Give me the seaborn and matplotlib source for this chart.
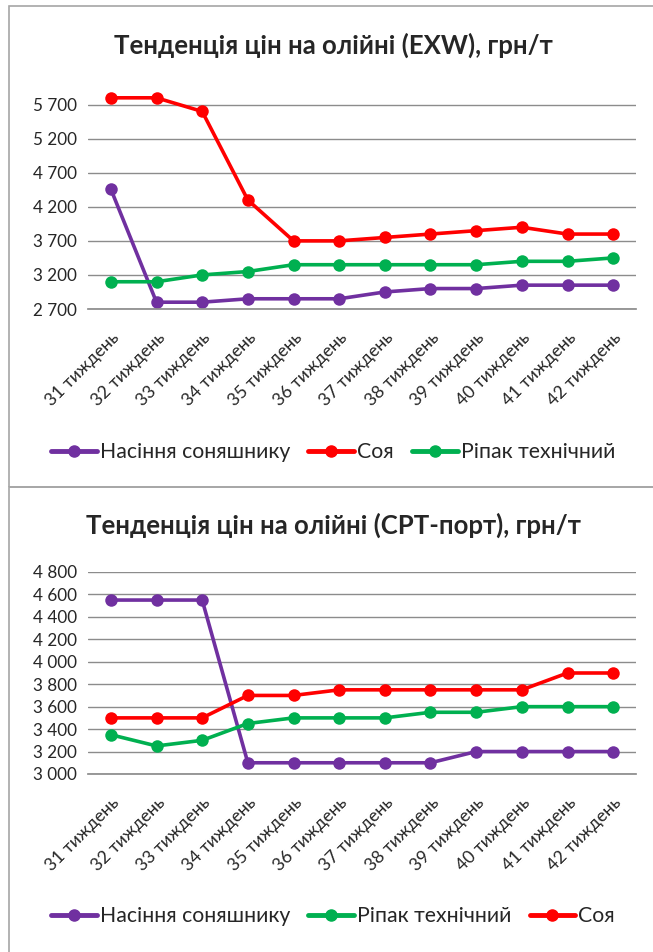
import matplotlib
matplotlib.use("Agg")
import matplotlib.pyplot as plt
import seaborn as sns
import pandas as pd
from matplotlib.patches import Rectangle
from matplotlib.lines import Line2D

weeks = [f"{w} тиждень" for w in range(31, 43)]

# Chart 1: EXW
exw_sunflower = [4460, 2800, 2800, 2850, 2850, 2850, 2950, 3000, 3000, 3050, 3050, 3050]
exw_soy = [5800, 5800, 5600, 4300, 3700, 3700, 3750, 3800, 3850, 3900, 3800, 3800]
exw_rapeseed = [3100, 3100, 3200, 3250, 3350, 3350, 3350, 3350, 3350, 3400, 3400, 3450]
exw_ticks = [2700, 3200, 3700, 4200, 4700, 5200, 5700]

# Chart 2: CPT-port
cpt_sunflower = [4550, 4550, 4550, 3100, 3100, 3100, 3100, 3100, 3200, 3200, 3200, 3200]
cpt_rapeseed = [3350, 3250, 3300, 3450, 3500, 3500, 3500, 3550, 3550, 3600, 3600, 3600]
cpt_soy = [3500, 3500, 3500, 3700, 3700, 3750, 3750, 3750, 3750, 3750, 3900, 3900]
cpt_ticks = [3000, 3200, 3400, 3600, 3800, 4000, 4200, 4400, 4600, 4800]

S_SUN = "Насіння соняшнику"
S_SOY = "Соя"
S_RAP = "Ріпак технічний"
colors = {S_SUN: "#7030A0", S_SOY: "#FF0000", S_RAP: "#00B050"}

sns.set_theme(style="white")
plt.rcParams["font.family"] = ["Lato", "DejaVu Sans"]

fig = plt.figure(figsize=(6.53, 9.52), dpi=100)

# panel borders
fig.patches.append(Rectangle((9/653, 1-487/952), 0.99, 481/952, transform=fig.transFigure,
                             fill=False, edgecolor="#A6A6A6", linewidth=1.2))
fig.patches.append(Rectangle((9/653, -0.01), 0.99, (952-487)/952 + 0.01, transform=fig.transFigure,
                             fill=False, edgecolor="#A6A6A6", linewidth=1.2))


def make_df(series):
    rows = []
    for name, vals in series:
        for w, v in zip(weeks, vals):
            rows.append({"week": w, "series": name, "value": v})
    return pd.DataFrame(rows)


def draw(ax, df, order, ticks, ylim, title, title_y, legend_y):
    sns.lineplot(data=df, x="week", y="value", hue="series", hue_order=order,
                 palette=colors, marker="o", markersize=9, markeredgewidth=0,
                 linewidth=2.6, ax=ax, legend=False, sort=False, clip_on=False)
    ax.set_xlim(-0.5, len(weeks) - 0.5)
    ax.set_ylim(*ylim)
    ax.set_yticks(ticks)
    ax.set_yticklabels([f"{t:,}".replace(",", " ") for t in ticks], fontsize=12.3)
    ax.set_xticks(range(len(weeks)))
    ax.set_xticklabels(weeks, rotation=45, ha="right", rotation_mode="anchor", fontsize=12.7)
    ax.tick_params(axis="y", length=0, pad=8)
    ax.tick_params(axis="x", length=0, pad=15)
    ax.set_xlabel("")
    ax.set_ylabel("")
    ax.grid(axis="y", color="#8C8C8C", linewidth=1.0)
    ax.set_axisbelow(True)
    for s in ["top", "right", "left"]:
        ax.spines[s].set_visible(False)
    ax.spines["bottom"].set_color("#8C8C8C")
    fig.text(0.51, title_y, title, ha="center", va="center", fontsize=18.5, fontweight="bold")
    handles = [Line2D([0], [0], color=colors[n], marker="o", markersize=8, linewidth=3.5)
               for n in order]
    fig.legend(handles, order, loc="center", bbox_to_anchor=(0.51, legend_y), ncol=3,
               frameon=False, fontsize=15.3, handlelength=2.15, columnspacing=0.85,
               handletextpad=0.15)


ax1 = fig.add_axes([88/653, 1-309/952, (636-88)/653, (309-91)/952])
draw(ax1, make_df([(S_SUN, exw_sunflower), (S_SOY, exw_soy), (S_RAP, exw_rapeseed)]),
     [S_SUN, S_SOY, S_RAP], exw_ticks, (2700, 5900),
     "Тенденція цін на олійні (EXW), грн/т", 1-45/952, 1-452/952)

ax2 = fig.add_axes([88/653, 1-774/952, (636-88)/653, (774-572)/952])
draw(ax2, make_df([(S_SUN, cpt_sunflower), (S_RAP, cpt_rapeseed), (S_SOY, cpt_soy)]),
     [S_SUN, S_RAP, S_SOY], cpt_ticks, (3000, 4800),
     "Тенденція цін на олійні (СРТ-порт), грн/т", 1-525/952, 1-916/952)

fig.savefig("out.png", dpi=100)
